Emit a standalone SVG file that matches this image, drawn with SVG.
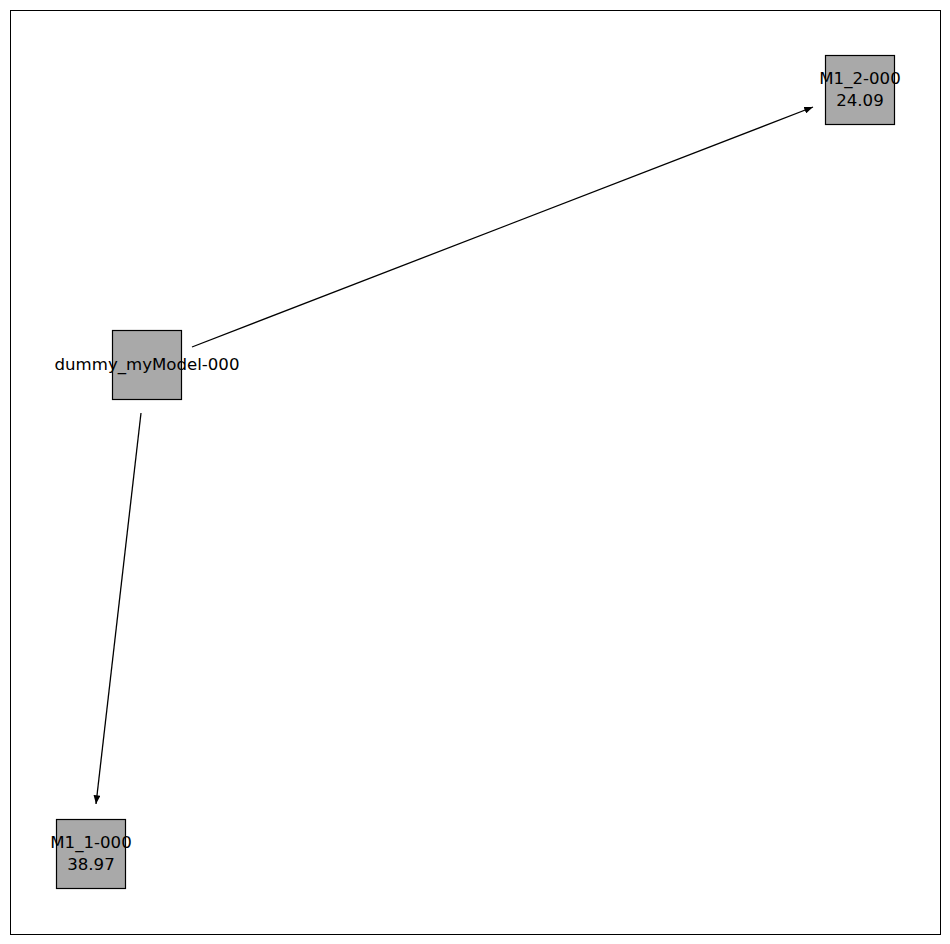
<svg xmlns="http://www.w3.org/2000/svg" width="950" height="944" viewBox="0 0 950 944">
<defs>
<style>
.node rect{fill:#a9a9a9;stroke:#000;stroke-width:1.2}
text{font-family:"DejaVu Sans",sans-serif;font-size:16.6px;fill:#000;text-anchor:middle}
.edge{stroke:#000;stroke-width:1.3;fill:none;marker-end:url(#arr)}
</style>
<marker id="arr" viewBox="0 0 10 8" refX="10" refY="4" markerWidth="9" markerHeight="7" markerUnits="userSpaceOnUse" orient="auto">
<path d="M0,0 L10,4 L0,8 z" fill="#000"/>
</marker>
</defs>
<rect x="0" y="0" width="950" height="944" fill="#fff"/>
<rect x="10.5" y="10.5" width="930" height="924" fill="none" stroke="#000" stroke-width="1"/>
<g id="connectors">
<line class="edge" x1="192" y1="347" x2="813" y2="107"/>
<line class="edge" x1="141" y1="413" x2="96" y2="804"/>
</g>
<g id="dummy_myModel-000" class="node">
<rect x="112.5" y="330.5" width="69" height="69"/>
<text x="147" y="370">dummy_myModel-000</text>
</g>
<g id="M1_2-000" class="node">
<rect x="825.5" y="55.5" width="69" height="69"/>
<text x="860" y="84">M1_2-000</text>
<text x="860" y="106">24.09</text>
</g>
<g id="M1_1-000" class="node">
<rect x="56.5" y="819.5" width="69" height="69"/>
<text x="91" y="848">M1_1-000</text>
<text x="91" y="870">38.97</text>
</g>
</svg>
